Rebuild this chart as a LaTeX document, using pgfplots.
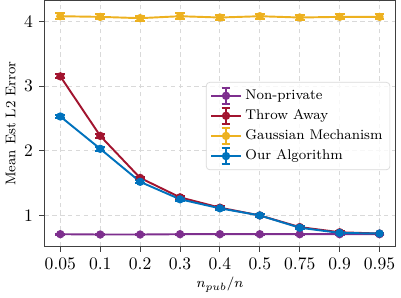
\documentclass[border=0pt]{standalone}
\usepackage{pgfplots}
\pgfplotsset{compat=1.18}
\definecolor{cpur}{HTML}{7E2F8E}
\definecolor{cred}{HTML}{A2142F}
\definecolor{cyel}{HTML}{EDB120}
\definecolor{cblu}{HTML}{0072BD}
\begin{document}
\begin{tikzpicture}
\begin{axis}[
  scale only axis,
  width=200pt, height=140pt,
  xmin=-0.4, xmax=8.4,
  ymin=0.52, ymax=4.32,
  xtick={0,1,2,3,4,5,6,7,8},
  xticklabels={0.05,0.1,0.2,0.3,0.4,0.5,0.75,0.9,0.95},
  ytick={1,2,3,4},
  grid=major,
  major grid style={dash pattern=on 2.5pt off 2pt, gray!30, line width=0.5pt},
  axis line style={black!75, line width=0.8pt},
  tick style={black!75, line width=0.6pt},
  tick align=outside,
  xtick pos=bottom, ytick pos=left,
  major tick length=3pt,
  xlabel={$n_{pub}/n$},
  ylabel={Mean Est L2 Error},
  label style={font=\footnotesize},
  xlabel style={yshift=3pt},
  ylabel style={yshift=-2pt},
  legend style={at={(0.985,0.49)}, anchor=east, font=\footnotesize, draw=black!15, rounded corners=2pt, fill=white, fill opacity=0.8, text opacity=1, row sep=0.3pt, inner sep=2.2pt},
  legend cell align=left,
  legend image code/.code={
    \draw[#1, mark=none] (0pt,0pt) -- (17pt,0pt);
    \draw[#1, mark=none] (8.5pt,-4.5pt) -- (8.5pt,4.5pt);
    \draw[#1, mark=none] (6pt,-4.5pt) -- (11pt,-4.5pt);
    \draw[#1, mark=none] (6pt,4.5pt) -- (11pt,4.5pt);
    \fill[#1] (8.5pt,0pt) circle (1.8pt);
  },
  every axis plot/.append style={line width=1.1pt, mark=*, mark size=1.8pt},
  error bars/y dir=both, error bars/y explicit,
  error bars/error bar style={line width=1.1pt},
  error bars/error mark options={rotate=90, mark size=2.8pt, line width=1.1pt},
]
\addplot[color=cpur] coordinates {(0,0.71) +- (0,0.01) (1,0.705) +- (0,0.01) (2,0.705) +- (0,0.01) (3,0.71) +- (0,0.01) (4,0.71) +- (0,0.01) (5,0.71) +- (0,0.01) (6,0.71) +- (0,0.01) (7,0.71) +- (0,0.01) (8,0.71) +- (0,0.01)};
\addlegendentry{Non-private}
\addplot[color=cred] coordinates {(0,3.15) +- (0,0.03) (1,2.23) +- (0,0.03) (2,1.58) +- (0,0.02) (3,1.28) +- (0,0.02) (4,1.12) +- (0,0.02) (5,1.0) +- (0,0.02) (6,0.82) +- (0,0.02) (7,0.74) +- (0,0.02) (8,0.72) +- (0,0.01)};
\addlegendentry{Throw Away}
\addplot[color=cyel] coordinates {(0,4.08) +- (0,0.05) (1,4.07) +- (0,0.04) (2,4.05) +- (0,0.04) (3,4.08) +- (0,0.05) (4,4.06) +- (0,0.04) (5,4.08) +- (0,0.04) (6,4.06) +- (0,0.04) (7,4.07) +- (0,0.04) (8,4.07) +- (0,0.04)};
\addlegendentry{Gaussian Mechanism}
\addplot[color=cblu] coordinates {(0,2.53) +- (0,0.03) (1,2.03) +- (0,0.03) (2,1.52) +- (0,0.02) (3,1.25) +- (0,0.02) (4,1.11) +- (0,0.02) (5,1.0) +- (0,0.02) (6,0.81) +- (0,0.02) (7,0.73) +- (0,0.01) (8,0.72) +- (0,0.01)};
\addlegendentry{Our Algorithm}
\end{axis}
\end{tikzpicture}
\end{document}
